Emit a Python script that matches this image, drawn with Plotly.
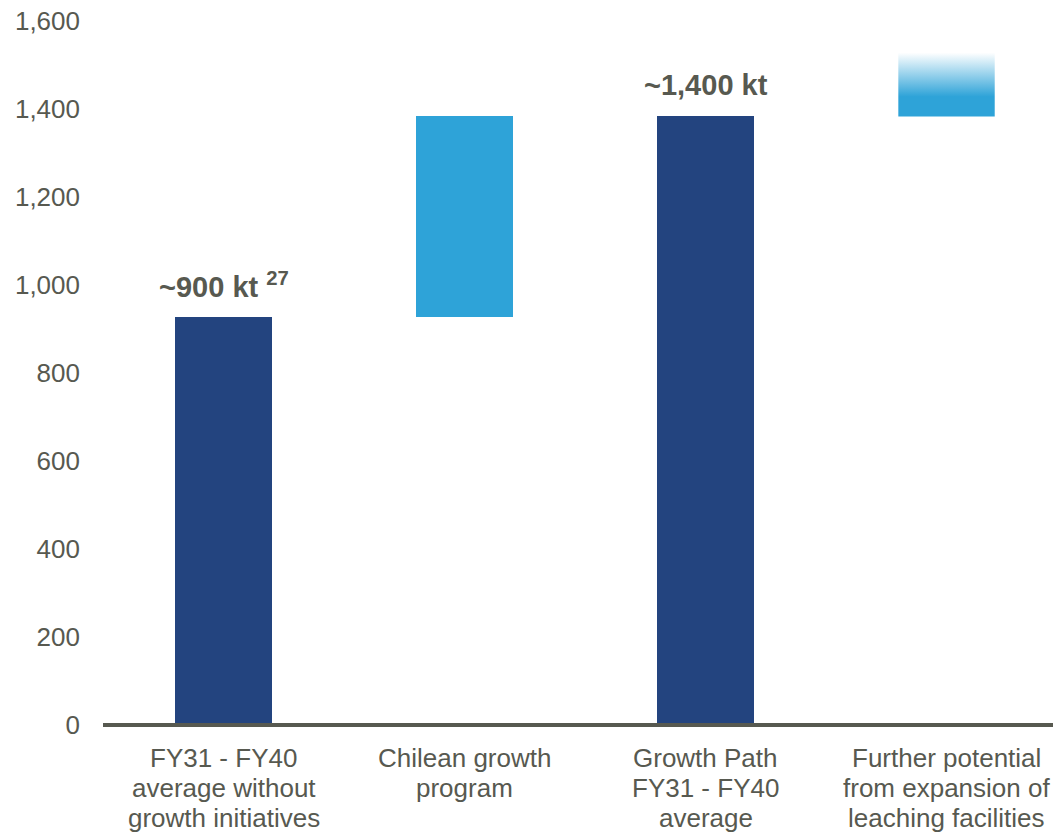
import plotly.graph_objects as go

categories = [
    "FY31 - FY40<br>average without<br>growth initiatives",
    "Chilean growth<br>program",
    "Growth Path<br>FY31 - FY40<br>average",
    "Further potential<br>from expansion of<br>leaching facilities",
]
base_value = 927          # FY31-FY40 average without growth initiatives
chilean_increment = 456   # Chilean growth program
growth_total = 1383       # Growth path FY31-FY40 average
further_potential = 145   # indicative further potential (faded)
label_texts = ["~900 kt <sup>27</sup>", "~1,400 kt"]
y_ticks = [0, 200, 400, 600, 800, 1000, 1200, 1400, 1600]

NAVY = "#23447F"
BLUE = "#2EA3D8"
TEXT = "#575950"
FONT = "Liberation Sans, Arial, sans-serif"
BW = 0.4

fig = go.Figure()

# Navy total bars
fig.add_trace(go.Bar(
    x=[0, 2], y=[base_value, growth_total], width=BW,
    marker=dict(color=NAVY, line=dict(width=0)), showlegend=False, hoverinfo="skip",
))
# Chilean growth increment (floating)
fig.add_trace(go.Bar(
    x=[1], y=[chilean_increment], base=[base_value], width=BW,
    marker=dict(color=BLUE, line=dict(width=0)), showlegend=False, hoverinfo="skip",
))
# Further potential: gradient-filled floating block
x_c = 3
lo, hi = growth_total, growth_total + further_potential
fig.add_trace(go.Scatter(
    x=[x_c - BW / 2, x_c + BW / 2, x_c + BW / 2, x_c - BW / 2, x_c - BW / 2],
    y=[lo, lo, hi, hi, lo],
    mode="none", fill="toself",
    fillgradient=dict(type="vertical",
                      colorscale=[[0, BLUE], [0.31, BLUE], [1, "#FFFFFF"]]),
    showlegend=False, hoverinfo="skip",
))

# Value labels
fig.add_annotation(x=0, y=base_value, text=label_texts[0], showarrow=False,
                   yanchor="bottom", yshift=12,
                   font=dict(family=FONT, size=29, color=TEXT, weight="bold"))
fig.add_annotation(x=2, y=growth_total, text=label_texts[1], showarrow=False,
                   yanchor="bottom", yshift=13,
                   font=dict(family=FONT, size=29, color=TEXT, weight="bold"))

# Category labels (one text per line for tighter line spacing)
for i, cat in enumerate(categories):
    for j, line in enumerate(cat.split("<br>")):
        fig.add_annotation(x=i, xref="x", y=0, yref="paper", text=line,
                           showarrow=False, yanchor="top",
                           yshift=-(16 + j * 30),
                           font=dict(family=FONT, size=26, color=TEXT))

# Baseline (not clipped by the plot area)
fig.add_shape(type="line", xref="paper", yref="paper", x0=0, x1=1.01, y0=0, y1=0,
              line=dict(color=TEXT, width=4), layer="above")

fig.update_layout(
    width=1053, height=825,
    margin=dict(l=95, r=0, t=13, b=108),
    plot_bgcolor="white", paper_bgcolor="white",
    font=dict(family=FONT, size=26, color=TEXT),
    bargap=0,
    xaxis=dict(range=[-0.5, 3.475], tickvals=[0, 1, 2, 3], showticklabels=False,
               showgrid=False, zeroline=False, showline=False, ticks="",
               automargin=False, fixedrange=True),
    yaxis=dict(range=[0, 1600], tickvals=y_ticks, tickformat=",",
               showgrid=False, zeroline=False, showline=False, ticks="",
               ticklabelstandoff=22, automargin=False, ticklabeloverflow="allow",
               tickfont=dict(size=26, color=TEXT), fixedrange=True),
)

fig.write_html("out.html")
